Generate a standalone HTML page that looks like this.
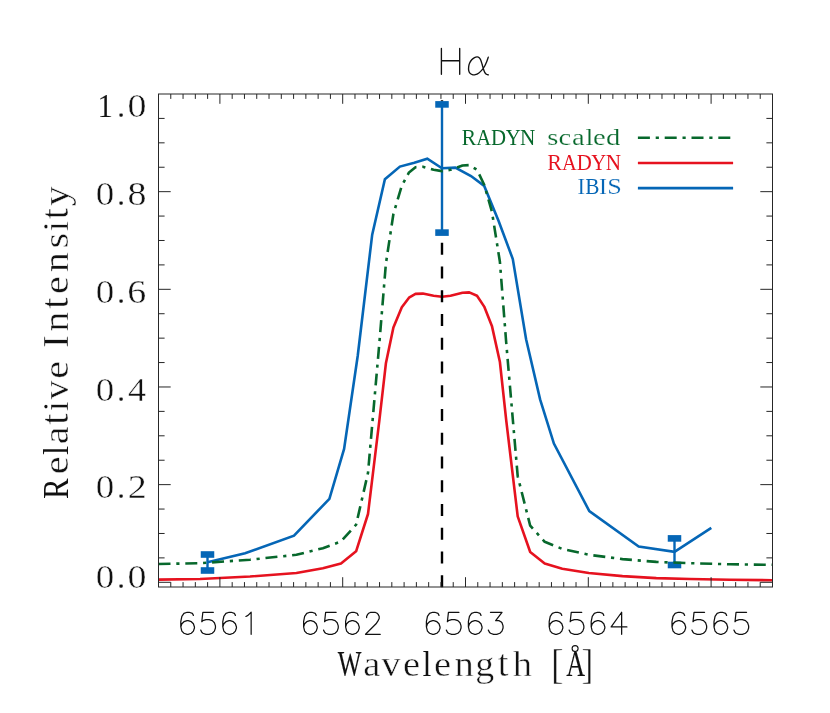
<!DOCTYPE html>
<html><head><meta charset="utf-8"><title>H-alpha</title>
<style>html,body{margin:0;padding:0;background:#fff;}svg{display:block;}</style></head>
<body>
<svg width="830" height="713" viewBox="0 0 830 713">
<rect width="830" height="713" fill="#fff"/>
<path d="M158.5 579.6 L200.0 579.0 L250.0 576.5 L296.4 573.0 L322.9 568.2 L341.0 563.4 L356.1 551.3 L368.0 514.0 L379.4 420.1 L385.9 363.3 L393.4 327.6 L401.8 307.3 L409.0 297.7 L415.5 293.9 L422.8 293.6 L433.6 295.8 L442.0 296.7 L450.5 295.8 L462.5 292.7 L469.3 292.4 L477.0 295.8 L484.2 306.6 L491.9 325.9 L499.9 362.0 L506.2 420.1 L517.7 516.4 L530.2 552.0 L544.7 563.6 L562.3 568.7 L588.8 573.0 L622.5 576.1 L656.3 578.1 L690.0 579.0 L730.0 579.8 L772.5 580.2" stroke="#e6121f" stroke-width="2.6" fill="none" stroke-linejoin="round"/>
<path d="M442 587.2V238M442 101.6V100.3" stroke="#000" stroke-width="2.4" fill="none" stroke-dasharray="12 11.75"/>
<path d="M207.5 562.2 L245.1 553.3 L294.0 535.7 L329.4 498.8 L344.1 448.9 L357.7 356.0 L372.2 234.6 L384.9 179.2 L399.9 166.6 L414.3 162.8 L427.3 158.7 L442.0 168.3 L455.3 167.6 L471.0 176.0 L484.2 185.9 L498.7 221.3 L512.8 259.0 L526.1 339.2 L540.1 399.4 L553.9 443.6 L589.3 511.1 L638.7 546.5 L674.5 551.8 L711.3 527.8" stroke="#0566b6" stroke-width="2.6" fill="none" stroke-linejoin="miter"/>
<path d="M442 104.4V232.6" stroke="#0566b6" stroke-width="2.4" fill="none"/>
<rect x="435.25" y="101.10" width="13.5" height="6.6" fill="#0566b6"/>
<rect x="435.25" y="229.30" width="13.5" height="6.6" fill="#0566b6"/>
<path d="M207.5 554.5V570.5" stroke="#0566b6" stroke-width="2.4" fill="none"/>
<rect x="200.75" y="551.20" width="13.5" height="6.6" fill="#0566b6"/>
<rect x="200.75" y="567.20" width="13.5" height="6.6" fill="#0566b6"/>
<path d="M674.5 538.4V565.0" stroke="#0566b6" stroke-width="2.4" fill="none"/>
<rect x="667.75" y="535.10" width="13.5" height="6.6" fill="#0566b6"/>
<rect x="667.75" y="561.70" width="13.5" height="6.6" fill="#0566b6"/>
<path d="M158.5 564.0 L200.0 563.2 L250.0 559.7 L296.4 554.8 L322.9 548.2 L341.0 541.5 L356.1 524.7 L368.0 472.9 L379.4 342.5 L385.9 263.6 L393.4 214.0 L401.8 185.8 L409.0 172.4 L415.5 167.2 L422.8 166.7 L433.6 169.8 L442.0 171.1 L450.5 169.8 L462.5 165.5 L469.3 165.1 L477.0 169.8 L484.2 184.8 L491.9 211.6 L499.9 261.8 L506.2 342.5 L517.7 476.2 L530.2 525.7 L544.7 541.8 L562.3 548.9 L588.8 554.8 L622.5 559.1 L656.3 561.9 L690.0 563.2 L730.0 564.3 L772.5 564.8" stroke="#07682c" stroke-width="2.6" fill="none" stroke-linejoin="round" stroke-dasharray="12 5.8 3.2 5.8"/>
<g stroke="#262626" stroke-width="1" fill="none">
<rect x="158.5" y="94.0" width="614.0" height="493.0"/>
<path d="M170.78 587.0v-4.9M170.78 94.0v4.9M183.06 587.0v-4.9M183.06 94.0v4.9M195.34 587.0v-4.9M195.34 94.0v4.9M207.62 587.0v-4.9M207.62 94.0v4.9M219.90 587.0v-9.8M219.90 94.0v9.8M232.18 587.0v-4.9M232.18 94.0v4.9M244.46 587.0v-4.9M244.46 94.0v4.9M256.74 587.0v-4.9M256.74 94.0v4.9M269.02 587.0v-4.9M269.02 94.0v4.9M281.30 587.0v-4.9M281.30 94.0v4.9M293.58 587.0v-4.9M293.58 94.0v4.9M305.86 587.0v-4.9M305.86 94.0v4.9M318.14 587.0v-4.9M318.14 94.0v4.9M330.42 587.0v-4.9M330.42 94.0v4.9M342.70 587.0v-9.8M342.70 94.0v9.8M354.98 587.0v-4.9M354.98 94.0v4.9M367.26 587.0v-4.9M367.26 94.0v4.9M379.54 587.0v-4.9M379.54 94.0v4.9M391.82 587.0v-4.9M391.82 94.0v4.9M404.10 587.0v-4.9M404.10 94.0v4.9M416.38 587.0v-4.9M416.38 94.0v4.9M428.66 587.0v-4.9M428.66 94.0v4.9M440.94 587.0v-4.9M440.94 94.0v4.9M453.22 587.0v-4.9M453.22 94.0v4.9M465.50 587.0v-9.8M465.50 94.0v9.8M477.78 587.0v-4.9M477.78 94.0v4.9M490.06 587.0v-4.9M490.06 94.0v4.9M502.34 587.0v-4.9M502.34 94.0v4.9M514.62 587.0v-4.9M514.62 94.0v4.9M526.90 587.0v-4.9M526.90 94.0v4.9M539.18 587.0v-4.9M539.18 94.0v4.9M551.46 587.0v-4.9M551.46 94.0v4.9M563.74 587.0v-4.9M563.74 94.0v4.9M576.02 587.0v-4.9M576.02 94.0v4.9M588.30 587.0v-9.8M588.30 94.0v9.8M600.58 587.0v-4.9M600.58 94.0v4.9M612.86 587.0v-4.9M612.86 94.0v4.9M625.14 587.0v-4.9M625.14 94.0v4.9M637.42 587.0v-4.9M637.42 94.0v4.9M649.70 587.0v-4.9M649.70 94.0v4.9M661.98 587.0v-4.9M661.98 94.0v4.9M674.26 587.0v-4.9M674.26 94.0v4.9M686.54 587.0v-4.9M686.54 94.0v4.9M698.82 587.0v-4.9M698.82 94.0v4.9M711.10 587.0v-9.8M711.10 94.0v9.8M723.38 587.0v-4.9M723.38 94.0v4.9M735.66 587.0v-4.9M735.66 94.0v4.9M747.94 587.0v-4.9M747.94 94.0v4.9M760.22 587.0v-4.9M760.22 94.0v4.9M158.5 582.30h12.2M772.5 582.30h-12.2M158.5 557.88h6.1M772.5 557.88h-6.1M158.5 533.47h6.1M772.5 533.47h-6.1M158.5 509.05h6.1M772.5 509.05h-6.1M158.5 484.64h12.2M772.5 484.64h-12.2M158.5 460.22h6.1M772.5 460.22h-6.1M158.5 435.81h6.1M772.5 435.81h-6.1M158.5 411.39h6.1M772.5 411.39h-6.1M158.5 386.98h12.2M772.5 386.98h-12.2M158.5 362.56h6.1M772.5 362.56h-6.1M158.5 338.15h6.1M772.5 338.15h-6.1M158.5 313.73h6.1M772.5 313.73h-6.1M158.5 289.32h12.2M772.5 289.32h-12.2M158.5 264.90h6.1M772.5 264.90h-6.1M158.5 240.49h6.1M772.5 240.49h-6.1M158.5 216.07h6.1M772.5 216.07h-6.1M158.5 191.66h12.2M772.5 191.66h-12.2M158.5 167.24h6.1M772.5 167.24h-6.1M158.5 142.83h6.1M772.5 142.83h-6.1M158.5 118.41h6.1M772.5 118.41h-6.1"/>
</g>
<path d="M637.9 137.75H733.1" stroke="#07682c" stroke-width="2.6" stroke-dasharray="12 5.8 3.2 5.8"/>
<path d="M637.9 162.95H733.1" stroke="#e6121f" stroke-width="2.6"/>
<path d="M637.9 188.1H733.1" stroke="#0566b6" stroke-width="2.6"/>
<g opacity="0.999">
<text transform="translate(461.48 144.80) scale(0.9277 1.0000)" font-family="Liberation Serif, serif" font-size="23.8" fill="#07682c" stroke="#fff" stroke-width="0.06">R</text>
<text transform="translate(476.34 144.80) scale(0.8594 1.0000)" font-family="Liberation Serif, serif" font-size="23.8" fill="#07682c">A</text>
<text transform="translate(491.11 144.80) scale(0.8770 1.0000)" font-family="Liberation Serif, serif" font-size="23.8" fill="#07682c">D</text>
<text transform="translate(505.63 144.80) scale(0.8691 1.0000)" font-family="Liberation Serif, serif" font-size="23.8" fill="#07682c">Y</text>
<text transform="translate(520.10 144.80) scale(0.8918 1.0000)" font-family="Liberation Serif, serif" font-size="23.8" fill="#07682c">N</text>
<text transform="translate(547.15 144.80) scale(1.2000 1.0000)" font-family="Liberation Serif, serif" font-size="23.8" fill="#07682c" stroke="#fff" stroke-width="0.20">s</text>
<text transform="translate(558.52 144.80) scale(1.2000 1.0000)" font-family="Liberation Serif, serif" font-size="23.8" fill="#07682c" stroke="#fff" stroke-width="0.20">c</text>
<text transform="translate(572.06 144.80) scale(1.2000 1.0000)" font-family="Liberation Serif, serif" font-size="23.8" fill="#07682c" stroke="#fff" stroke-width="0.20">a</text>
<text transform="translate(585.39 144.80) scale(1.2000 1.0000)" font-family="Liberation Serif, serif" font-size="23.8" fill="#07682c" stroke="#fff" stroke-width="0.20">l</text>
<text transform="translate(593.07 144.80) scale(1.2000 1.0000)" font-family="Liberation Serif, serif" font-size="23.8" fill="#07682c" stroke="#fff" stroke-width="0.20">e</text>
<text transform="translate(606.04 144.80) scale(1.2000 1.0000)" font-family="Liberation Serif, serif" font-size="23.8" fill="#07682c" stroke="#fff" stroke-width="0.20">d</text>
<text transform="translate(547.18 169.60) scale(0.9277 1.0000)" font-family="Liberation Serif, serif" font-size="23.8" fill="#e6121f" stroke="#fff" stroke-width="0.06">R</text>
<text transform="translate(562.04 169.60) scale(0.8594 1.0000)" font-family="Liberation Serif, serif" font-size="23.8" fill="#e6121f">A</text>
<text transform="translate(576.81 169.60) scale(0.8770 1.0000)" font-family="Liberation Serif, serif" font-size="23.8" fill="#e6121f">D</text>
<text transform="translate(591.33 169.60) scale(0.8691 1.0000)" font-family="Liberation Serif, serif" font-size="23.8" fill="#e6121f">Y</text>
<text transform="translate(605.80 169.60) scale(0.8918 1.0000)" font-family="Liberation Serif, serif" font-size="23.8" fill="#e6121f">N</text>
<text transform="translate(577.31 194.30) scale(0.9956 1.0000)" font-family="Liberation Serif, serif" font-size="23.8" fill="#0566b6" stroke="#fff" stroke-width="0.19">I</text>
<text transform="translate(585.30 194.30) scale(0.8954 1.0000)" font-family="Liberation Serif, serif" font-size="23.8" fill="#0566b6">B</text>
<text transform="translate(599.10 194.30) scale(1.0116 1.0000)" font-family="Liberation Serif, serif" font-size="23.8" fill="#0566b6" stroke="#fff" stroke-width="0.20">I</text>
<text transform="translate(607.19 194.30) scale(1.1000 1.0000)" font-family="Liberation Serif, serif" font-size="23.8" fill="#0566b6" stroke="#fff" stroke-width="0.20">S</text>
<text transform="translate(97.31 116.70) scale(0.9160 1.0000)" font-family="Liberation Serif, serif" font-size="34.5" fill="#111" stroke="#fff" stroke-width="0.06">1</text>
<text transform="translate(116.64 116.70) scale(1.0000 1.0000)" font-family="Liberation Serif, serif" font-size="34.5" fill="#111" stroke="#fff" stroke-width="0.40">.</text>
<text transform="translate(127.56 116.70) scale(1.1000 1.0000)" font-family="Liberation Serif, serif" font-size="34.5" fill="#111" stroke="#fff" stroke-width="0.40">0</text>
<text transform="translate(95.79 205.00) scale(1.0735 1.0000)" font-family="Liberation Serif, serif" font-size="34.5" fill="#111" stroke="#fff" stroke-width="0.40">0</text>
<text transform="translate(116.64 205.00) scale(1.0000 1.0000)" font-family="Liberation Serif, serif" font-size="34.5" fill="#111" stroke="#fff" stroke-width="0.40">.</text>
<text transform="translate(127.56 205.00) scale(1.1000 1.0000)" font-family="Liberation Serif, serif" font-size="34.5" fill="#111" stroke="#fff" stroke-width="0.40">8</text>
<text transform="translate(95.79 302.50) scale(1.0735 1.0000)" font-family="Liberation Serif, serif" font-size="34.5" fill="#111" stroke="#fff" stroke-width="0.40">0</text>
<text transform="translate(116.64 302.50) scale(1.0000 1.0000)" font-family="Liberation Serif, serif" font-size="34.5" fill="#111" stroke="#fff" stroke-width="0.40">.</text>
<text transform="translate(127.33 302.50) scale(1.1000 1.0000)" font-family="Liberation Serif, serif" font-size="34.5" fill="#111" stroke="#fff" stroke-width="0.40">6</text>
<text transform="translate(95.79 400.50) scale(1.0735 1.0000)" font-family="Liberation Serif, serif" font-size="34.5" fill="#111" stroke="#fff" stroke-width="0.40">0</text>
<text transform="translate(116.64 400.50) scale(1.0000 1.0000)" font-family="Liberation Serif, serif" font-size="34.5" fill="#111" stroke="#fff" stroke-width="0.40">.</text>
<text transform="translate(127.96 400.50) scale(1.0435 1.0000)" font-family="Liberation Serif, serif" font-size="34.5" fill="#111" stroke="#fff" stroke-width="0.40">4</text>
<text transform="translate(95.79 498.00) scale(1.0735 1.0000)" font-family="Liberation Serif, serif" font-size="34.5" fill="#111" stroke="#fff" stroke-width="0.40">0</text>
<text transform="translate(116.64 498.00) scale(1.0000 1.0000)" font-family="Liberation Serif, serif" font-size="34.5" fill="#111" stroke="#fff" stroke-width="0.40">.</text>
<text transform="translate(127.75 498.00) scale(1.1000 1.0000)" font-family="Liberation Serif, serif" font-size="34.5" fill="#111" stroke="#fff" stroke-width="0.40">2</text>
<text transform="translate(95.79 587.80) scale(1.0735 1.0000)" font-family="Liberation Serif, serif" font-size="34.5" fill="#111" stroke="#fff" stroke-width="0.40">0</text>
<text transform="translate(116.64 587.80) scale(1.0000 1.0000)" font-family="Liberation Serif, serif" font-size="34.5" fill="#111" stroke="#fff" stroke-width="0.40">.</text>
<text transform="translate(127.56 587.80) scale(1.1000 1.0000)" font-family="Liberation Serif, serif" font-size="34.5" fill="#111" stroke="#fff" stroke-width="0.40">0</text>
<path d="M193.40 615.40 L192.35 613.30 L189.20 612.25 L187.10 612.25 L183.95 613.30 L181.85 616.45 L180.80 621.70 L180.80 626.95 L181.85 631.15 L183.95 633.25 L187.10 634.30 L188.15 634.30 L191.30 633.25 L193.40 631.15 L194.45 628.00 L194.45 626.95 L193.40 623.80 L191.30 621.70 L188.15 620.65 L187.10 620.65 L183.95 621.70 L181.85 623.80 L180.80 626.95M213.35 612.25 L202.85 612.25 L201.80 621.70 L202.85 620.65 L206.00 619.60 L209.15 619.60 L212.30 620.65 L214.40 622.75 L215.45 625.90 L215.45 628.00 L214.40 631.15 L212.30 633.25 L209.15 634.30 L206.00 634.30 L202.85 633.25 L201.80 632.20 L200.75 630.10M235.40 615.40 L234.35 613.30 L231.20 612.25 L229.10 612.25 L225.95 613.30 L223.85 616.45 L222.80 621.70 L222.80 626.95 L223.85 631.15 L225.95 633.25 L229.10 634.30 L230.15 634.30 L233.30 633.25 L235.40 631.15 L236.45 628.00 L236.45 626.95 L235.40 623.80 L233.30 621.70 L230.15 620.65 L229.10 620.65 L225.95 621.70 L223.85 623.80 L222.80 626.95M245.90 616.45 L248.00 615.40 L251.15 612.25 L251.15 634.30" stroke="#111" stroke-width="1.25" fill="none" stroke-linecap="round" stroke-linejoin="round"/>
<path d="M316.20 615.40 L315.15 613.30 L312.00 612.25 L309.90 612.25 L306.75 613.30 L304.65 616.45 L303.60 621.70 L303.60 626.95 L304.65 631.15 L306.75 633.25 L309.90 634.30 L310.95 634.30 L314.10 633.25 L316.20 631.15 L317.25 628.00 L317.25 626.95 L316.20 623.80 L314.10 621.70 L310.95 620.65 L309.90 620.65 L306.75 621.70 L304.65 623.80 L303.60 626.95M336.15 612.25 L325.65 612.25 L324.60 621.70 L325.65 620.65 L328.80 619.60 L331.95 619.60 L335.10 620.65 L337.20 622.75 L338.25 625.90 L338.25 628.00 L337.20 631.15 L335.10 633.25 L331.95 634.30 L328.80 634.30 L325.65 633.25 L324.60 632.20 L323.55 630.10M358.20 615.40 L357.15 613.30 L354.00 612.25 L351.90 612.25 L348.75 613.30 L346.65 616.45 L345.60 621.70 L345.60 626.95 L346.65 631.15 L348.75 633.25 L351.90 634.30 L352.95 634.30 L356.10 633.25 L358.20 631.15 L359.25 628.00 L359.25 626.95 L358.20 623.80 L356.10 621.70 L352.95 620.65 L351.90 620.65 L348.75 621.70 L346.65 623.80 L345.60 626.95M366.60 617.50 L366.60 616.45 L367.65 614.35 L368.70 613.30 L370.80 612.25 L375.00 612.25 L377.10 613.30 L378.15 614.35 L379.20 616.45 L379.20 618.55 L378.15 620.65 L376.05 623.80 L365.55 634.30 L380.25 634.30" stroke="#111" stroke-width="1.25" fill="none" stroke-linecap="round" stroke-linejoin="round"/>
<path d="M439.00 615.40 L437.95 613.30 L434.80 612.25 L432.70 612.25 L429.55 613.30 L427.45 616.45 L426.40 621.70 L426.40 626.95 L427.45 631.15 L429.55 633.25 L432.70 634.30 L433.75 634.30 L436.90 633.25 L439.00 631.15 L440.05 628.00 L440.05 626.95 L439.00 623.80 L436.90 621.70 L433.75 620.65 L432.70 620.65 L429.55 621.70 L427.45 623.80 L426.40 626.95M458.95 612.25 L448.45 612.25 L447.40 621.70 L448.45 620.65 L451.60 619.60 L454.75 619.60 L457.90 620.65 L460.00 622.75 L461.05 625.90 L461.05 628.00 L460.00 631.15 L457.90 633.25 L454.75 634.30 L451.60 634.30 L448.45 633.25 L447.40 632.20 L446.35 630.10M481.00 615.40 L479.95 613.30 L476.80 612.25 L474.70 612.25 L471.55 613.30 L469.45 616.45 L468.40 621.70 L468.40 626.95 L469.45 631.15 L471.55 633.25 L474.70 634.30 L475.75 634.30 L478.90 633.25 L481.00 631.15 L482.05 628.00 L482.05 626.95 L481.00 623.80 L478.90 621.70 L475.75 620.65 L474.70 620.65 L471.55 621.70 L469.45 623.80 L468.40 626.95M490.45 612.25 L502.00 612.25 L495.70 620.65 L498.85 620.65 L500.95 621.70 L502.00 622.75 L503.05 625.90 L503.05 628.00 L502.00 631.15 L499.90 633.25 L496.75 634.30 L493.60 634.30 L490.45 633.25 L489.40 632.20 L488.35 630.10" stroke="#111" stroke-width="1.25" fill="none" stroke-linecap="round" stroke-linejoin="round"/>
<path d="M561.80 615.40 L560.75 613.30 L557.60 612.25 L555.50 612.25 L552.35 613.30 L550.25 616.45 L549.20 621.70 L549.20 626.95 L550.25 631.15 L552.35 633.25 L555.50 634.30 L556.55 634.30 L559.70 633.25 L561.80 631.15 L562.85 628.00 L562.85 626.95 L561.80 623.80 L559.70 621.70 L556.55 620.65 L555.50 620.65 L552.35 621.70 L550.25 623.80 L549.20 626.95M581.75 612.25 L571.25 612.25 L570.20 621.70 L571.25 620.65 L574.40 619.60 L577.55 619.60 L580.70 620.65 L582.80 622.75 L583.85 625.90 L583.85 628.00 L582.80 631.15 L580.70 633.25 L577.55 634.30 L574.40 634.30 L571.25 633.25 L570.20 632.20 L569.15 630.10M603.80 615.40 L602.75 613.30 L599.60 612.25 L597.50 612.25 L594.35 613.30 L592.25 616.45 L591.20 621.70 L591.20 626.95 L592.25 631.15 L594.35 633.25 L597.50 634.30 L598.55 634.30 L601.70 633.25 L603.80 631.15 L604.85 628.00 L604.85 626.95 L603.80 623.80 L601.70 621.70 L598.55 620.65 L597.50 620.65 L594.35 621.70 L592.25 623.80 L591.20 626.95M621.65 612.25 L611.15 626.95 L626.90 626.95M621.65 612.25 L621.65 634.30" stroke="#111" stroke-width="1.25" fill="none" stroke-linecap="round" stroke-linejoin="round"/>
<path d="M684.60 615.40 L683.55 613.30 L680.40 612.25 L678.30 612.25 L675.15 613.30 L673.05 616.45 L672.00 621.70 L672.00 626.95 L673.05 631.15 L675.15 633.25 L678.30 634.30 L679.35 634.30 L682.50 633.25 L684.60 631.15 L685.65 628.00 L685.65 626.95 L684.60 623.80 L682.50 621.70 L679.35 620.65 L678.30 620.65 L675.15 621.70 L673.05 623.80 L672.00 626.95M704.55 612.25 L694.05 612.25 L693.00 621.70 L694.05 620.65 L697.20 619.60 L700.35 619.60 L703.50 620.65 L705.60 622.75 L706.65 625.90 L706.65 628.00 L705.60 631.15 L703.50 633.25 L700.35 634.30 L697.20 634.30 L694.05 633.25 L693.00 632.20 L691.95 630.10M726.60 615.40 L725.55 613.30 L722.40 612.25 L720.30 612.25 L717.15 613.30 L715.05 616.45 L714.00 621.70 L714.00 626.95 L715.05 631.15 L717.15 633.25 L720.30 634.30 L721.35 634.30 L724.50 633.25 L726.60 631.15 L727.65 628.00 L727.65 626.95 L726.60 623.80 L724.50 621.70 L721.35 620.65 L720.30 620.65 L717.15 621.70 L715.05 623.80 L714.00 626.95M746.55 612.25 L736.05 612.25 L735.00 621.70 L736.05 620.65 L739.20 619.60 L742.35 619.60 L745.50 620.65 L747.60 622.75 L748.65 625.90 L748.65 628.00 L747.60 631.15 L745.50 633.25 L742.35 634.30 L739.20 634.30 L736.05 633.25 L735.00 632.20 L733.95 630.10" stroke="#111" stroke-width="1.25" fill="none" stroke-linecap="round" stroke-linejoin="round"/>
<path d="M441.40 48.43 L441.40 74.30M459.70 48.43 L459.70 74.30M441.40 60.75 L459.70 60.75" stroke="#111" stroke-width="1.35" fill="none" stroke-linecap="round" stroke-linejoin="round"/>
<path d="M488.31 57.13C488.04 57.89 487.28 60.21 486.69 61.69C486.09 63.17 485.51 64.65 484.74 66.02C483.96 67.40 483.00 68.77 482.03 69.93C481.05 71.09 480.00 72.17 478.88 72.96C477.76 73.76 476.40 74.41 475.30 74.70C474.20 74.99 473.17 74.95 472.27 74.70C471.36 74.45 470.48 73.90 469.88 73.18C469.28 72.46 468.89 71.46 468.69 70.36C468.49 69.26 468.53 67.80 468.69 66.57C468.85 65.34 469.16 64.13 469.66 62.99C470.17 61.85 470.91 60.64 471.72 59.74C472.54 58.83 473.64 58.04 474.54 57.57C475.45 57.10 476.37 56.90 477.15 56.92C477.92 56.93 478.61 57.15 479.21 57.68C479.80 58.20 480.25 58.99 480.72 60.06C481.19 61.13 481.59 62.63 482.03 64.07C482.46 65.52 482.88 67.36 483.33 68.74C483.78 70.11 484.23 71.39 484.74 72.31C485.24 73.24 485.77 73.85 486.36 74.27C486.96 74.68 487.99 74.72 488.31 74.81" stroke="#111" stroke-width="1.35" fill="none" stroke-linecap="round" stroke-linejoin="round"/>
<text transform="translate(337.76 675.50) scale(0.7155 1.0000)" font-family="Liberation Serif, serif" font-size="35.1" fill="#111" stroke="#111" stroke-width="0.16">W</text>
<text transform="translate(363.32 675.50) scale(1.1000 1.0000)" font-family="Liberation Serif, serif" font-size="35.1" fill="#111" stroke="#fff" stroke-width="0.45">a</text>
<text transform="translate(381.20 675.50) scale(1.1000 1.0000)" font-family="Liberation Serif, serif" font-size="35.1" fill="#111" stroke="#fff" stroke-width="0.45">v</text>
<text transform="translate(402.96 675.50) scale(1.1000 1.0000)" font-family="Liberation Serif, serif" font-size="35.1" fill="#111" stroke="#fff" stroke-width="0.45">e</text>
<text transform="translate(422.52 675.50) scale(0.9201 1.0000)" font-family="Liberation Serif, serif" font-size="35.1" fill="#111" stroke="#fff" stroke-width="0.09">l</text>
<text transform="translate(434.06 675.50) scale(1.1000 1.0000)" font-family="Liberation Serif, serif" font-size="35.1" fill="#111" stroke="#fff" stroke-width="0.45">e</text>
<text transform="translate(454.60 675.50) scale(1.1000 1.0000)" font-family="Liberation Serif, serif" font-size="35.1" fill="#111" stroke="#fff" stroke-width="0.45">n</text>
<text transform="translate(475.36 675.50) scale(1.0790 1.0000)" font-family="Liberation Serif, serif" font-size="35.1" fill="#111" stroke="#fff" stroke-width="0.45">g</text>
<text transform="translate(497.70 675.50) scale(1.1000 1.1000)" font-family="Liberation Serif, serif" font-size="35.1" fill="#111" stroke="#fff" stroke-width="0.45">t</text>
<text transform="translate(512.75 675.50) scale(1.1000 1.0000)" font-family="Liberation Serif, serif" font-size="35.1" fill="#111" stroke="#fff" stroke-width="0.45">h</text>
<text transform="translate(551.04 677.98) scale(1.0717 1.2288)" font-family="Liberation Serif, serif" font-size="35.1" fill="#111" stroke="#fff" stroke-width="0.45">[</text>
<text transform="translate(566.20 675.50) scale(0.7424 1.0000)" font-family="Liberation Serif, serif" font-size="35.1" fill="#111" stroke="#111" stroke-width="0.13">A</text>
<text transform="translate(581.51 677.98) scale(1.0218 1.2288)" font-family="Liberation Serif, serif" font-size="35.1" fill="#111" stroke="#fff" stroke-width="0.45">]</text>
<circle cx="575.1" cy="648.6" r="3.0" fill="none" stroke="#111" stroke-width="1.1"/>
<text transform="translate(68.40 498.96) rotate(-90) scale(0.8487 1.0000)" font-family="Liberation Serif, serif" font-size="36.5" fill="#111" stroke="#111" stroke-width="0.00">R</text>
<text transform="translate(68.40 474.13) rotate(-90) scale(1.1000 1.0000)" font-family="Liberation Serif, serif" font-size="36.5" fill="#111" stroke="#fff" stroke-width="0.45">e</text>
<text transform="translate(68.40 454.99) rotate(-90) scale(0.8963 1.0000)" font-family="Liberation Serif, serif" font-size="36.5" fill="#111">l</text>
<text transform="translate(68.40 444.13) rotate(-90) scale(1.1000 1.0000)" font-family="Liberation Serif, serif" font-size="36.5" fill="#111" stroke="#fff" stroke-width="0.45">a</text>
<text transform="translate(68.40 424.67) rotate(-90) scale(1.1000 1.1000)" font-family="Liberation Serif, serif" font-size="36.5" fill="#111" stroke="#fff" stroke-width="0.45">t</text>
<text transform="translate(68.40 411.15) rotate(-90) scale(0.9783 1.0000)" font-family="Liberation Serif, serif" font-size="36.5" fill="#111" stroke="#fff" stroke-width="0.35">i</text>
<text transform="translate(68.40 399.53) rotate(-90) scale(1.0504 1.0000)" font-family="Liberation Serif, serif" font-size="36.5" fill="#111" stroke="#fff" stroke-width="0.45">v</text>
<text transform="translate(68.40 378.83) rotate(-90) scale(1.1000 1.0000)" font-family="Liberation Serif, serif" font-size="36.5" fill="#111" stroke="#fff" stroke-width="0.45">e</text>
<text transform="translate(68.40 348.32) rotate(-90) scale(1.0823 1.0000)" font-family="Liberation Serif, serif" font-size="36.5" fill="#111" stroke="#fff" stroke-width="0.45">I</text>
<text transform="translate(68.40 331.69) rotate(-90) scale(1.1000 1.0000)" font-family="Liberation Serif, serif" font-size="36.5" fill="#111" stroke="#fff" stroke-width="0.45">n</text>
<text transform="translate(68.40 308.87) rotate(-90) scale(1.1000 1.1000)" font-family="Liberation Serif, serif" font-size="36.5" fill="#111" stroke="#fff" stroke-width="0.45">t</text>
<text transform="translate(68.40 293.88) rotate(-90) scale(1.1000 1.0000)" font-family="Liberation Serif, serif" font-size="36.5" fill="#111" stroke="#fff" stroke-width="0.45">e</text>
<text transform="translate(68.40 272.29) rotate(-90) scale(1.1000 1.0000)" font-family="Liberation Serif, serif" font-size="36.5" fill="#111" stroke="#fff" stroke-width="0.45">n</text>
<text transform="translate(68.40 248.58) rotate(-90) scale(1.1000 1.0000)" font-family="Liberation Serif, serif" font-size="36.5" fill="#111" stroke="#fff" stroke-width="0.45">s</text>
<text transform="translate(68.40 231.49) rotate(-90) scale(1.0354 1.0000)" font-family="Liberation Serif, serif" font-size="36.5" fill="#111" stroke="#fff" stroke-width="0.45">i</text>
<text transform="translate(68.40 219.22) rotate(-90) scale(1.1000 1.1000)" font-family="Liberation Serif, serif" font-size="36.5" fill="#111" stroke="#fff" stroke-width="0.45">t</text>
<text transform="translate(68.40 206.03) rotate(-90) scale(1.0942 1.0000)" font-family="Liberation Serif, serif" font-size="36.5" fill="#111" stroke="#fff" stroke-width="0.45">y</text>
</g>
</svg>
</body></html>
